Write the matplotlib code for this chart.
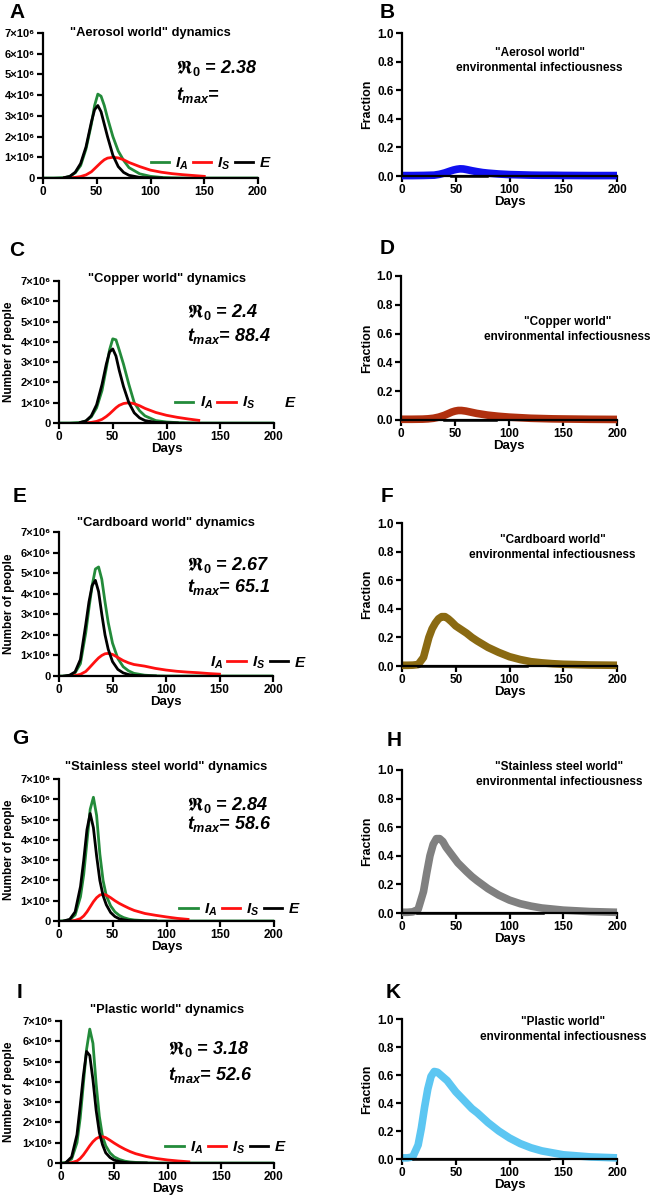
import numpy as np
import matplotlib
matplotlib.use("Agg")
import matplotlib.pyplot as plt
from matplotlib.lines import Line2D

nan = np.nan

plt.rcParams['font.family'] = ['Liberation Sans', 'DejaVu Sans']
plt.rcParams['font.weight'] = 'bold'
plt.rcParams['mathtext.fontset'] = 'custom'
plt.rcParams['mathtext.rm'] = 'Liberation Sans:bold'
plt.rcParams['mathtext.it'] = 'Liberation Sans:italic:bold'
plt.rcParams['mathtext.bf'] = 'Liberation Sans:bold'
plt.rcParams['mathtext.fallback'] = 'stix'

# ---- data (infected numbers in millions, environmental fraction 0..1) ----
worlds = ["Aerosol", "Copper", "Cardboard", "Stainless steel", "Plastic"]
r0_values = ["2.38", "2.4", "2.67", "2.84", "3.18"]
tmax_values = ["", "88.4", "65.1", "58.6", "52.6"]

aerosol_days = [0, 10, 20, 25, 30, 35, 40, 45, 48, 51, 54, 57, 60, 65, 70, 75, 80, 90, 100, 110, 120, 130, 140, 150, 175, 200]
aerosol_ia = [0, 0, 0.02, 0.08, 0.25, 0.6, 1.4, 2.6, 3.5, 4.05, 3.95, 3.5, 2.9, 2.0, 1.3, 0.85, 0.5, 0.2, 0.08, 0.03, 0.01, 0, 0, 0, 0, 0]
aerosol_is = [nan, nan, 0, 0.01, 0.03, 0.07, 0.15, 0.3, 0.45, 0.6, 0.75, 0.88, 0.96, 1.0, 0.97, 0.88, 0.75, 0.55, 0.38, 0.28, 0.21, 0.16, 0.12, 0.08, nan, nan]
aerosol_e = [nan, nan, 0.02, 0.08, 0.28, 0.7, 1.5, 2.7, 3.3, 3.5, 3.2, 2.6, 2.0, 1.1, 0.55, 0.27, 0.13, 0.03, 0.01, 0, nan, nan, nan, nan, nan, nan]
aerosol_env = [0.003, 0.003, 0.004, 0.005, 0.006, 0.012, 0.022, 0.035, 0.042, 0.047, 0.05, 0.049, 0.045, 0.037, 0.03, 0.024, 0.02, 0.014, 0.01, 0.008, 0.006, 0.005, 0.005, 0.004, 0.003, 0.003]

copper_days = [0, 10, 20, 25, 30, 35, 40, 44, 47, 50, 53, 56, 60, 65, 70, 75, 80, 90, 100, 110, 120, 130, 140, 150, 175, 200]
copper_ia = [0, 0, 0.03, 0.1, 0.3, 0.75, 1.6, 2.7, 3.6, 4.15, 4.1, 3.6, 2.9, 1.9, 1.0, 0.6, 0.35, 0.12, 0.05, 0.02, 0.01, 0, 0, 0, 0, 0]
copper_is = [nan, nan, 0, 0.01, 0.03, 0.08, 0.18, 0.32, 0.45, 0.6, 0.75, 0.87, 0.96, 1.0, 0.95, 0.85, 0.72, 0.52, 0.38, 0.28, 0.2, 0.13, nan, nan, nan, nan]
copper_e = [nan, nan, 0.03, 0.1, 0.35, 0.9, 1.9, 2.9, 3.5, 3.65, 3.3, 2.6, 1.8, 1.0, 0.5, 0.25, 0.12, 0.03, 0.01, 0, nan, nan, nan, nan, nan, nan]
copper_env = [0.005, 0.005, 0.006, 0.008, 0.012, 0.02, 0.032, 0.045, 0.055, 0.062, 0.066, 0.066, 0.062, 0.054, 0.046, 0.04, 0.034, 0.026, 0.02, 0.016, 0.012, 0.01, 0.008, 0.007, 0.005, 0.004]

cardboard_days = [0, 5, 10, 15, 20, 25, 28, 31, 34, 37, 40, 43, 46, 50, 55, 60, 65, 70, 80, 90, 100, 110, 120, 130, 140, 150, 175, 200]
cardboard_ia = [0, 0, 0.03, 0.15, 0.6, 2.1, 3.3, 4.4, 5.2, 5.3, 4.7, 3.6, 2.6, 1.6, 0.85, 0.45, 0.25, 0.13, 0.04, 0.01, 0, 0, 0, 0, 0, 0, 0, 0]
cardboard_is = [nan, nan, 0, 0.02, 0.08, 0.22, 0.38, 0.55, 0.72, 0.88, 1.0, 1.08, 1.1, 1.05, 0.9, 0.75, 0.64, 0.56, 0.48, 0.37, 0.29, 0.23, 0.19, 0.16, 0.12, 0.09, nan, nan]
cardboard_e = [nan, 0, 0.04, 0.2, 0.8, 2.5, 3.6, 4.4, 4.65, 4.1, 3.0, 2.0, 1.3, 0.7, 0.32, 0.15, 0.07, 0.03, 0.01, 0, nan, nan, nan, nan, nan, nan, nan, nan]
cardboard_env = [0.005, 0.005, 0.006, 0.01, 0.06, 0.2, 0.26, 0.3, 0.33, 0.345, 0.345, 0.33, 0.31, 0.28, 0.255, 0.23, 0.2, 0.175, 0.13, 0.095, 0.065, 0.045, 0.03, 0.022, 0.016, 0.012, 0.007, 0.005]

steel_days = [0, 5, 10, 15, 20, 23, 26, 29, 32, 35, 38, 41, 44, 48, 52, 56, 60, 65, 70, 80, 90, 100, 110, 120, 130, 150, 175, 200]
steel_ia = [0, 0.01, 0.06, 0.3, 1.2, 2.3, 3.9, 5.5, 6.1, 5.2, 3.3, 2.0, 1.25, 0.75, 0.45, 0.28, 0.17, 0.09, 0.05, 0.015, 0, 0, 0, 0, 0, 0, 0, 0]
steel_is = [nan, nan, 0, 0.03, 0.12, 0.25, 0.45, 0.7, 0.95, 1.15, 1.28, 1.32, 1.28, 1.15, 1.0, 0.87, 0.76, 0.63, 0.52, 0.37, 0.28, 0.2, 0.13, 0.08, nan, nan, nan, nan]
steel_e = [nan, 0.01, 0.08, 0.45, 1.7, 3.0, 4.5, 5.3, 4.6, 3.2, 2.0, 1.25, 0.8, 0.42, 0.22, 0.11, 0.06, 0.02, 0.01, 0, 0, nan, nan, nan, nan, nan, nan, nan]
steel_env = [0.005, 0.005, 0.008, 0.025, 0.15, 0.28, 0.4, 0.48, 0.52, 0.52, 0.5, 0.46, 0.43, 0.39, 0.35, 0.32, 0.29, 0.255, 0.225, 0.17, 0.125, 0.09, 0.065, 0.048, 0.035, 0.02, 0.01, 0.005]

plastic_days = [0, 5, 10, 15, 18, 21, 24, 27, 30, 33, 36, 39, 42, 46, 50, 55, 60, 65, 70, 80, 90, 100, 110, 120, 130, 150, 175, 200]
plastic_ia = [0, 0.03, 0.2, 1.0, 2.2, 3.9, 5.6, 6.6, 5.9, 3.9, 2.3, 1.3, 0.85, 0.5, 0.3, 0.17, 0.09, 0.05, 0.03, 0.01, 0, 0, 0, 0, 0, 0, 0, 0]
plastic_is = [nan, 0, 0.02, 0.1, 0.22, 0.4, 0.62, 0.85, 1.05, 1.2, 1.28, 1.3, 1.25, 1.12, 0.98, 0.82, 0.68, 0.56, 0.46, 0.32, 0.22, 0.15, 0.1, 0.06, nan, nan, nan, nan]
plastic_e = [nan, 0.04, 0.3, 1.4, 2.8, 4.3, 5.5, 5.3, 4.1, 2.6, 1.5, 0.9, 0.5, 0.27, 0.14, 0.07, 0.03, 0.01, 0, 0, nan, nan, nan, nan, nan, nan, nan, nan]
plastic_env = [0.008, 0.008, 0.015, 0.1, 0.22, 0.37, 0.5, 0.59, 0.625, 0.62, 0.6, 0.58, 0.56, 0.52, 0.48, 0.44, 0.4, 0.36, 0.33, 0.26, 0.2, 0.15, 0.11, 0.08, 0.058, 0.03, 0.015, 0.008]

# black segment lying on zero in the right panels (start/end day)
zero_seg_start = [46, 40, 15, 14, 10]
zero_seg_end = [79, 88, 116, 131, 137]

all_days = [aerosol_days, copper_days, cardboard_days, steel_days, plastic_days]
all_ia = [aerosol_ia, copper_ia, cardboard_ia, steel_ia, plastic_ia]
all_is = [aerosol_is, copper_is, cardboard_is, steel_is, plastic_is]
all_e = [aerosol_e, copper_e, cardboard_e, steel_e, plastic_e]
all_env = [aerosol_env, copper_env, cardboard_env, steel_env, plastic_env]

env_colors = ["#1010F0", "#B0300F", "#8A6A12", "#808080", "#5CC6F2"]
c_ia, c_is, c_e = "#238B3A", "#FF1010", "black"

# ---- layout (pixel boxes: left, right, top, bottom) ----
W, H = 656, 1200
left_boxes = [(43, 258, 33, 178), (59, 274, 281, 423), (59, 273, 532, 676), (59, 274, 779, 921), (61, 274, 1021, 1163)]
right_boxes = [(402, 617, 33, 176), (401, 617, 276, 420), (402, 617, 523, 666), (402, 617, 770, 913), (402, 617, 1019, 1159)]
left_letters = [("A", 17, 12), ("C", 17, 250), ("E", 20, 497), ("G", 20, 738), ("I", 20, 992)]
right_letters = [("B", 387, 12), ("D", 387, 248), ("F", 387, 497), ("H", 394, 740), ("K", 393, 993)]
title_y = [1.0, 1.015, 1.06, 1.085, 1.077]
stat_pos = [(0.62, 0.76, 0.57), (0.595, 0.78, 0.61), (0.6, 0.77, 0.62), (0.595, 0.82, 0.68), (0.5, 0.8, 0.62)]
legend_pos = [(0.5, 0.10), (0.54, 0.14), (0.59, 0.09), (0.56, 0.08), (0.49, 0.11)]
hidden_handle = {1: 2, 2: 0}
env_title_pos = [(0.64, 0.81), (0.77, 0.63), (0.70, 0.83), (0.73, 0.97), (0.75, 0.925)]


def make_ax(fig, box):
    l, r, t, b = box
    return fig.add_axes([l / W, 1 - b / H, (r - l) / W, (b - t) / H])


def style_ax(ax):
    for s in ["top", "right"]:
        ax.spines[s].set_visible(False)
    for s in ["left", "bottom"]:
        ax.spines[s].set_linewidth(1.6)
    ax.tick_params(direction="out", length=4, width=1.6, labelsize=8.5, pad=2)
    for lab in ax.get_xticklabels() + ax.get_yticklabels():
        lab.set_fontweight("bold")


def days_label(ax, box):
    ax.set_xlabel("Days", fontsize=9.5, fontweight="bold")
    ax.xaxis.set_label_coords(0.5, -20 / (box[3] - box[2]))


fig = plt.figure(figsize=(W / 100, H / 100), dpi=100)

for i in range(5):
    days = np.array(all_days[i], dtype=float)
    # left: dynamics
    box = left_boxes[i]
    ax = make_ax(fig, box)
    ax.plot(days, np.array(all_ia[i]) * 1e6, color=c_ia, lw=2.0)
    ax.plot(days, np.array(all_is[i]) * 1e6, color=c_is, lw=2.0)
    ax.plot(days, np.array(all_e[i]) * 1e6, color=c_e, lw=2.0)
    ax.set_xlim(0, 200)
    ax.set_ylim(0, 7e6)
    ax.set_xticks([0, 50, 100, 150, 200])
    ax.set_yticks([k * 1e6 for k in range(8)])
    ax.set_yticklabels(["0"] + ["%d×10⁶" % k for k in range(1, 8)])
    style_ax(ax)
    ax.tick_params(axis="y", labelsize=8)
    ax.text(0.5, title_y[i], '"%s world" dynamics' % worlds[i], transform=ax.transAxes,
            ha="center", va="center", fontsize=9.3, fontweight="bold")
    sx, sy1, sy2 = stat_pos[i]
    ax.text(sx, sy1, r"$\mathfrak{R}_{0}$ = " + r0_values[i], transform=ax.transAxes, fontsize=13,
            fontweight="bold", style="italic", va="center")
    ax.text(sx, sy2, r"$t_{max}$= " + tmax_values[i], transform=ax.transAxes, fontsize=13,
            fontweight="bold", style="italic", va="center")
    handles = [Line2D([], [], color=c, lw=2) for c in (c_ia, c_is, c_e)]
    if i in hidden_handle:
        handles[hidden_handle[i]].set_color("none")
    lx, ly = legend_pos[i]
    ax.legend(handles, [r"$I_A$", r"$I_S$", r"$E$"], ncol=3, frameon=False, loc="center left",
              bbox_to_anchor=(lx, ly), fontsize=11, handlelength=1.2, handletextpad=0.4,
              columnspacing=0.3, borderpad=0, borderaxespad=0)
    if i > 0:
        ax.set_ylabel("Number of people", fontsize=8.5, fontweight="bold")
        ax.yaxis.set_label_coords((15 - box[0]) / (box[1] - box[0]), 0.5)
        days_label(ax, box)

    # right: environmental infectiousness
    rbox = right_boxes[i]
    ax2 = make_ax(fig, rbox)
    ax2.plot(days, all_env[i], color=env_colors[i], lw=5.5, solid_capstyle="butt", clip_on=False)
    ax2.plot([zero_seg_start[i], zero_seg_end[i]], [0, 0], color="black", lw=1.8, clip_on=False)
    ax2.set_xlim(0, 200)
    ax2.set_ylim(0, 1.0)
    ax2.set_xticks([0, 50, 100, 150, 200])
    ax2.set_yticks([0, 0.2, 0.4, 0.6, 0.8, 1.0])
    ax2.set_yticklabels(["0.0", "0.2", "0.4", "0.6", "0.8", "1.0"])
    style_ax(ax2)
    tx, ty = env_title_pos[i]
    ax2.text(tx, ty, '"%s world"\nenvironmental infectiousness' % worlds[i], transform=ax2.transAxes,
             ha="center", va="center", fontsize=8.5, fontweight="bold", linespacing=1.35)
    ax2.set_ylabel("Fraction", fontsize=9, fontweight="bold")
    ax2.yaxis.set_label_coords((373 - rbox[0]) / (rbox[1] - rbox[0]), 0.5)
    days_label(ax2, rbox)

for letter, x, y in left_letters + right_letters:
    fig.text(x / W, 1 - y / H, letter, ha="center", va="center", fontsize=15, fontweight="bold")

fig.savefig("out.png", dpi=100)
